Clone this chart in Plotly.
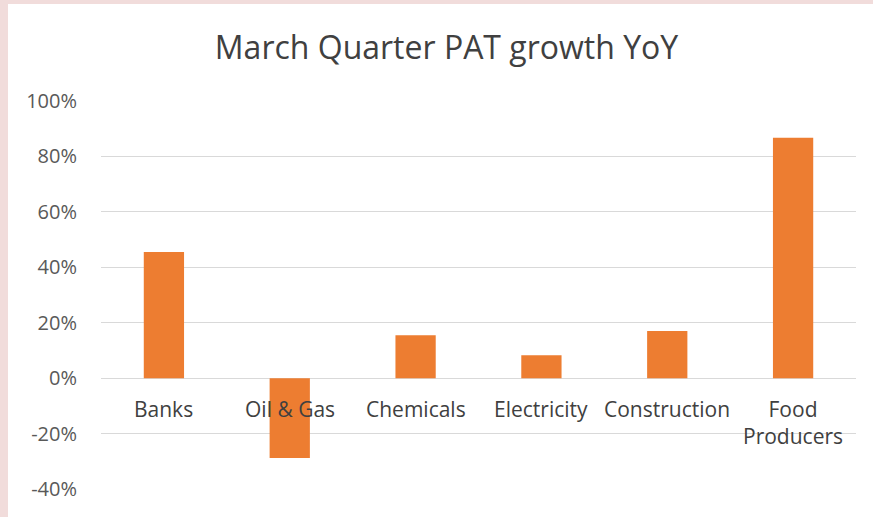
import plotly.graph_objects as go

categories = ["Banks", "Oil & Gas", "Chemicals", "Electricity", "Construction", "Food<br>Producers"]
growth_pct = [45.5, -28.8, 15.5, 8.3, 17.0, 86.7]
y_ticks = [-40, -20, 0, 20, 40, 60, 80, 100]

W, H = 873, 517
L, R, T, B = 101, 17, 101, 28
pw, ph = W - L - R, H - T - B

def px_x(p):
    return (p - L) / pw

def px_y(p):
    return (H - B - p) / ph

FONT = "Open Sans, sans-serif"
PINK = "#F1DCDB"

fig = go.Figure()
fig.add_trace(go.Bar(x=categories, y=growth_pct, marker=dict(color="#ED7D31", line=dict(width=0)),
                     hoverinfo="x+y"))

annotations = []
for c in categories:
    annotations.append(dict(x=c, y=0, xref="x", yref="y", text=c, showarrow=False,
                            yanchor="top", yshift=-15,
                            font=dict(family=FONT, size=21, color="#404040")))

fig.update_layout(
    width=W, height=H,
    margin=dict(l=L, r=R, t=T, b=B, pad=0),
    paper_bgcolor="white", plot_bgcolor="white",
    title=dict(text="March Quarter PAT growth YoY", x=446.5 / W, xref="container", xanchor="center",
               y=1 - 48 / H, yanchor="middle",
               font=dict(family=FONT, size=32, color="#404040")),
    bargap=0.68,
    showlegend=False,
    annotations=annotations,
    shapes=[
        dict(type="rect", xref="paper", yref="paper", x0=px_x(0), x1=px_x(8), y0=px_y(H), y1=px_y(0),
             fillcolor=PINK, line=dict(width=0), layer="below"),
        dict(type="rect", xref="paper", yref="paper", x0=px_x(0), x1=px_x(W), y0=px_y(4), y1=px_y(0),
             fillcolor=PINK, line=dict(width=0), layer="below"),
    ],
)
fig.update_xaxes(showticklabels=False, showgrid=False, showline=False, zeroline=False, ticks="")
fig.update_yaxes(range=[-40, 100], tickvals=y_ticks, ticktext=[f"{v}%" for v in y_ticks],
                 showgrid=True, gridcolor="#D9D9D9", gridwidth=1.3,
                 zeroline=True, zerolinecolor="#D9D9D9", zerolinewidth=1.3,
                 showline=False, ticks="", ticklabelstandoff=23,
                 tickfont=dict(family=FONT, size=20, color="#595959"))

fig.write_html("out.html", config={"displayModeBar": False},
               post_script="document.body.style.margin='0';document.body.style.overflow='hidden';")
